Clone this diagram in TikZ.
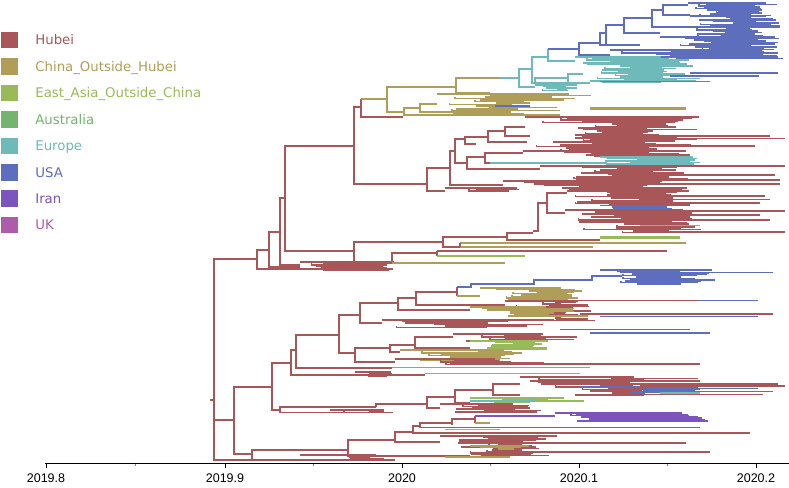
\documentclass[tikz,border=0pt]{standalone}
\usepackage{fontspec}
\setmainfont{DejaVu Sans}
\newfontfamily\axisfont{Liberation Sans}
\usetikzlibrary{positioning}

\definecolor{hubeiC}{RGB}{168,86,88}
\definecolor{chinaC}{RGB}{176,158,88}
\definecolor{eastaC}{RGB}{152,186,88}
\definecolor{austC}{RGB}{116,180,110}
\definecolor{euroC}{RGB}{110,186,186}
\definecolor{usaC}{RGB}{92,110,188}
\definecolor{iranC}{RGB}{124,84,190}
\definecolor{ukC}{RGB}{172,92,168}

% ladder of tips: colour, x0, y0, n, dy, start min/max, end min/max
\newcommand{\tipbundle}[9]{%
  \draw[#1] (#2,#3) -- ({#8+rnd*(#9-#8)},#3);
  \foreach \k in {1,...,#4}{%
    \pgfmathsetmacro{\tbxs}{#6+rnd*(#7-#6)}%
    \pgfmathsetmacro{\tbxe}{#8+rnd*(#9-#8)}%
    \pgfmathsetmacro{\tby}{#3+\k*#5}%
    \draw[#1] (\tbxs,\tby-#5) -- (\tbxs,\tby) -- (\tbxe,\tby);
  }%
}

\begin{document}
\begin{tikzpicture}[x=1pt, y=-1pt, line width=1.6pt,
  hb/.style={hubeiC}, co/.style={chinaC}, ea/.style={eastaC},
  eu/.style={euroC}, us/.style={usaC}, ir/.style={iranC}, uk/.style={ukC},
  key/.style={draw=none, minimum size=16.5pt, inner sep=0pt},
  lab/.style={font=\fontsize{13.3}{16}\selectfont, inner sep=0pt,
    text height=9.6pt, text depth=0pt, anchor=west},
  yr/.style={font=\axisfont\fontsize{12.5}{14}\selectfont, inner sep=0pt,
    text height=9pt, text depth=0pt}]
\useasboundingbox (0,0) rectangle (789,487);
\fill[white] (0,0) rectangle (789,487);
\pgfmathsetseed{11}

% legend
\node[key, fill=hubeiC] (kHubei) at (9.5,40) {};
\node[key, fill=chinaC, below=8.35pt of kHubei] (kChina) {};
\node[key, fill=eastaC, below=8.35pt of kChina] (kEastA) {};
\node[key, fill=austC, below=8.35pt of kEastA] (kAust) {};
\node[key, fill=euroC, below=8.35pt of kAust] (kEuro) {};
\node[key, fill=usaC, below=8.35pt of kEuro] (kUSA) {};
\node[key, fill=iranC, below=8.35pt of kUSA] (kIran) {};
\node[key, fill=ukC, below=8.35pt of kIran] (kUK) {};
\node[lab, text=hubeiC, right=16pt of kHubei] (lHubei) {Hubei};
\node[lab, text=chinaC, right=16pt of kChina] (lChina) {China\_Outside\_Hubei};
\node[lab, text=eastaC, right=16pt of kEastA] (lEastA) {East\_Asia\_Outside\_China};
\node[lab, text=austC, right=16pt of kAust] (lAust) {Australia};
\node[lab, text=euroC, right=16pt of kEuro] (lEuro) {Europe};
\node[lab, text=usaC, right=16pt of kUSA] (lUSA) {USA};
\node[lab, text=iranC, right=16pt of kIran] (lIran) {Iran};
\node[lab, text=ukC, right=16pt of kUK] (lUK) {UK};

% root
\draw[hb] (210,400) -- (214,400);
\draw[hb] (257,259) -- (214,259) -- (214,460) -- (395,460);
\draw[hb] (214,420) -- (234,420);

% upper half
\draw[hb] (269,250) -- (257,250) -- (257,269) -- (393,269);
\draw[hb] (280,232) -- (269,232) -- (269,267) -- (300,267);
\draw[hb] (285,198) -- (280,198) -- (280,265) -- (300,265);
\tipbundle{hb}{300}{262}{6}{1.4}{310}{350}{375}{395}
\draw[hb] (354,146) -- (285,146) -- (285,251) -- (354,251);

% China / Europe / USA clade
\draw[hb] (361,107) -- (354,107) -- (354,184) -- (427,184);
\draw[hb] (361,99) -- (361,117) -- (403,117);
\draw[co] (361,99) -- (387,99);
\draw[co] (456,87) -- (387,87) -- (387,112) -- (404,112);
\draw[co] (420,108) -- (404,108) -- (404,115) -- (560,115);
\draw[co] (437,104) -- (420,104) -- (420,112) -- (490,112);
\tipbundle{co}{437}{94}{13}{1.5}{445}{500}{505}{600}
\draw[co, line width=3pt] (590,108.5) -- (686,108.5);
\draw[us] (495,106) -- (530,106);
\draw[co] (500,78) -- (456,78) -- (456,93) -- (490,93);
\draw[eu] (500,78) -- (519,78);

\draw[eu] (532,69) -- (519,69) -- (519,87) -- (535,87);
\tipbundle{eu}{535}{85}{4}{1.4}{540}{560}{565}{590}
\draw[eu] (548,57) -- (532,57) -- (532,83) -- (535,83);
\draw[eu] (568,78) -- (535,78) -- (535,83) -- (590,83);
\draw[eu] (583,74) -- (568,74) -- (568,82);
\tipbundle{eu}{583}{63}{14}{1.4}{590}{640}{650}{705}
\draw[uk] (600,81.5) -- (710,81.5);
\draw[us] (690,73) -- (778,73);
\draw[us] (670,76) -- (759,76);
\draw[eu] (548,49) -- (548,61) -- (575,61);
\tipbundle{eu}{575}{57}{5}{1.4}{580}{620}{660}{705}

\draw[us] (548,49) -- (579,49);
\draw[us] (600,43) -- (579,43) -- (579,55) -- (610,55);
\draw[us] (606,33) -- (600,33) -- (600,45) -- (640,45);
\draw[us] (624,25) -- (606,25) -- (606,46);
\draw[us] (652,18) -- (624,18) -- (624,33) -- (660,33);
\draw[us] (663,10) -- (652,10) -- (652,27) -- (680,27);
\draw[us] (688,5) -- (663,5) -- (663,15) -- (690,15);
\tipbundle{us}{688}{3}{9}{1.4}{690}{720}{750}{783}
\tipbundle{us}{690}{16}{7}{1.4}{700}{740}{750}{780}
\tipbundle{us}{680}{27}{7}{1.4}{690}{730}{750}{782}
\tipbundle{us}{660}{37}{9}{1.4}{680}{720}{750}{785}
\tipbundle{us}{610}{50}{6}{1.4}{620}{690}{760}{784}

% Hubei clade below
\draw[hb] (450,168) -- (427,168) -- (427,191) -- (445,191);
\tipbundle{hb}{445}{188}{2}{1.4}{460}{480}{505}{525}
\draw[hb] (455,151) -- (450,151) -- (450,185) -- (503,185);
\tipbundle{hb}{503}{181}{6}{1.4}{520}{580}{640}{700}
\draw[hb] (600,184) -- (780,184);
\draw[hb] (465,139) -- (455,139) -- (455,163) -- (467,163);
\draw[hb] (488,137) -- (465,137) -- (465,144) -- (476,144);
\draw[hb] (505,131) -- (488,131) -- (488,142) -- (527,142);
\draw[hb] (525,127) -- (505,127) -- (505,136) -- (530,136);
\tipbundle{hb}{525}{117}{24}{1.4}{535}{620}{640}{702}
\draw[hb] (650,136) -- (770,136);
\draw[hb] (650,138.5) -- (785,138.5);
\draw[hb] (640,146) -- (755,146);
\draw[hb] (485,157) -- (467,157) -- (467,169) -- (540,169);
\draw[hb] (523,153) -- (485,153) -- (485,163) -- (490,163);
\tipbundle{hb}{523}{151}{4}{1.4}{535}{600}{640}{700}
\draw[eu] (490,163) -- (607,163);
\tipbundle{eu}{600}{157}{5}{1.4}{605}{640}{690}{702}
\tipbundle{hb}{540}{166}{11}{1.4}{555}{620}{650}{702}
\draw[hb] (640,166) -- (785,166);
\draw[hb] (650,175) -- (775,175);
\draw[hb] (650,180) -- (780,180);

\draw[hb] (443,242) -- (354,242) -- (354,263) -- (392,263);
\draw[hb] (507,237) -- (443,237) -- (443,247) -- (460,247);
\draw[co] (460,243) -- (686,243);
\draw[co] (460,247) -- (593,247);
\draw[hb] (460,243) -- (460,247);
\draw[hb] (533,233) -- (507,233) -- (507,240) -- (600,240);
\draw[ea, line width=2.5pt] (600,237.5) -- (680,237.5);
\draw[hb] (547,203) -- (538,203) -- (538,231) -- (533,231);
\draw[hb] (567,193) -- (547,193) -- (547,213) -- (565,213);
\tipbundle{hb}{567}{191}{10}{1.4}{575}{640}{650}{702}
\tipbundle{us}{600}{205.5}{2}{1.4}{610}{630}{660}{682}
\tipbundle{hb}{565}{210}{16}{1.4}{575}{650}{660}{702}
\draw[hb] (650,196) -- (765,196);
\draw[hb] (650,199.5) -- (770,199.5);
\draw[hb] (650,203) -- (760,203);
\draw[hb] (660,211) -- (785,211);
\draw[hb] (660,215) -- (760,215);
\draw[hb] (660,220) -- (770,220);
\draw[hb] (660,232) -- (785,232);
\draw[eu] (640,225.5) -- (700,225.5);

\draw[hb] (437,253) -- (392,253) -- (392,263);
\draw[hb] (437,251) -- (437,256);
\draw[hb] (437,251) -- (667,251);
\draw[ea] (437,256) -- (525,256);
\draw[co] (392,263) -- (505,263);

% lower half
\draw[hb] (272,387) -- (234,387) -- (234,454) -- (252,454);
\draw[hb] (291,363) -- (272,363) -- (272,410) -- (280,410);
\draw[hb] (376,407) -- (280,407) -- (280,412.5) -- (393,412.5);
\tipbundle{hb}{330}{410}{2}{1.3}{340}{370}{380}{395}
\draw[hb] (427,404) -- (376,404) -- (376,407);
\draw[hb] (455,397) -- (427,397) -- (427,408) -- (440,408);
\draw[hb] (493,390) -- (455,390) -- (455,403) -- (470,403);
\draw[hb] (520,384) -- (493,384) -- (493,395) -- (520,395);
\tipbundle{hb}{520}{377}{13}{1.4}{530}{620}{630}{700}
\tipbundle{us}{580}{387}{4}{1.3}{600}{650}{690}{705}
\draw[hb] (640,384) -- (778,384);
\draw[hb] (640,386) -- (785,386);
\draw[us] (650,388.5) -- (758,388.5);
\draw[us] (650,391.5) -- (773,391.5);
\draw[hb] (640,394.5) -- (763,394.5);
\draw[eu] (660,393) -- (700,393);
\tipbundle{ea}{470}{398}{3}{1.4}{480}{520}{530}{585}
\draw[eu] (470,401) -- (535,401);
\tipbundle{hb}{440}{404}{6}{1.3}{450}{490}{500}{555}

\draw[hb] (296,350) -- (291,350) -- (291,375) -- (425,375);
\tipbundle{hb}{355}{372}{3}{1.3}{360}{380}{385}{395}
\draw[eu] (425,373.5) -- (580,373.5);
\draw[hb] (339,335) -- (296,335) -- (296,368) -- (392,368);
\draw[co] (392,367.5) -- (590,367.5);
\draw[hb] (360,315) -- (339,315) -- (339,353) -- (355,353);
\draw[hb] (390,348) -- (355,348) -- (355,362) -- (395,362);
\draw[hb] (415,345) -- (390,345) -- (390,352) -- (400,352);
\draw[hb] (453,337) -- (415,337) -- (415,348) -- (470,348);
\tipbundle{hb}{453}{334}{5}{1.4}{465}{520}{540}{595}
\tipbundle{ea}{470}{341}{6}{1.4}{480}{520}{530}{548}
\tipbundle{co}{400}{350}{7}{1.4}{420}{480}{500}{550}
\tipbundle{hb}{395}{359}{4}{1.4}{410}{470}{490}{545}
\draw[hb] (460,364) -- (700,364);

\draw[hb] (398,303) -- (360,303) -- (360,323) -- (382,323);
\draw[hb] (416,298) -- (398,298) -- (398,310) -- (470,310);
\draw[hb] (457,292) -- (416,292) -- (416,305) -- (505,305);
\draw[hb] (457,287) -- (457,296);
\draw[us] (457,287) -- (471,287) -- (471,284) -- (534,284) -- (534,280)
  -- (592,280) -- (592,276) -- (622,276);
\tipbundle{us}{600}{270}{10}{1.4}{610}{660}{680}{715}
\draw[us] (620,272.5) -- (773,272.5);
\draw[co] (457,296) -- (480,296);
\tipbundle{co}{480}{288}{9}{1.4}{490}{540}{560}{585}
\tipbundle{hb}{505}{301}{14}{1.4}{515}{560}{560}{595}
\tipbundle{co}{470}{307}{6}{1.5}{480}{520}{540}{590}
\draw[hb] (560,300.5) -- (700,300.5);
\draw[us] (700,300.5) -- (758,300.5);
\draw[hb] (580,314) -- (773,314);
\draw[us] (600,316.5) -- (758,316.5);
\tipbundle{hb}{382}{320}{5}{1.5}{395}{450}{470}{560}
\draw[hb] (560,329.5) -- (690,329.5);
\draw[us] (590,333) -- (710,333);

\draw[hb] (348,450) -- (252,450) -- (252,460);
\draw[hb] (395,440) -- (348,440) -- (348,456) -- (470,456);
\draw[hb] (413,432) -- (395,432) -- (395,442) -- (440,442);
\draw[hb] (420,426) -- (413,426) -- (413,433) -- (750,433);
\draw[hb] (452,423) -- (420,423) -- (420,427.5) -- (700,427.5);
\draw[hb] (475,419) -- (452,419) -- (452,425);
\draw[hb] (475,416) -- (475,423);
\draw[ir] (475,416) -- (555,416);
\draw[co] (475,423) -- (490,423);
\tipbundle{ir}{555}{413}{6}{1.3}{560}{600}{680}{710}
\draw[eu] (445,429.5) -- (500,429.5);
\tipbundle{hb}{440}{436}{14}{1.4}{450}{500}{510}{560}
\draw[hb] (500,443) -- (686,443);
\draw[hb] (500,452) -- (710,452);
\tipbundle{co}{470}{446}{2}{1.4}{480}{500}{510}{530}
\draw[co] (445,457) -- (510,457);
\tipbundle{hb}{300}{455}{3}{1.3}{320}{360}{370}{395}

% time axis
\draw[black, line width=1.5pt] (45,463.5) -- (789,463.5);
\foreach \tx in {46,225,402,579,756}
  \draw[black, line width=1pt] (\tx,463.5) -- (\tx,467.5);
\foreach \tx in {135.5,313.5,490.5,667.5}
  \draw[gray, line width=0.8pt] (\tx,463.5) -- (\tx,465.5);
\node[yr] (y198) at (46,478) {2019.8};
\node[yr] (y199) at (225,478) {2019.9};
\node[yr] (y200) at (402,478) {2020};
\node[yr] (y201) at (579,478) {2020.1};
\node[yr] (y202) at (756,478) {2020.2};
\end{tikzpicture}
\end{document}
